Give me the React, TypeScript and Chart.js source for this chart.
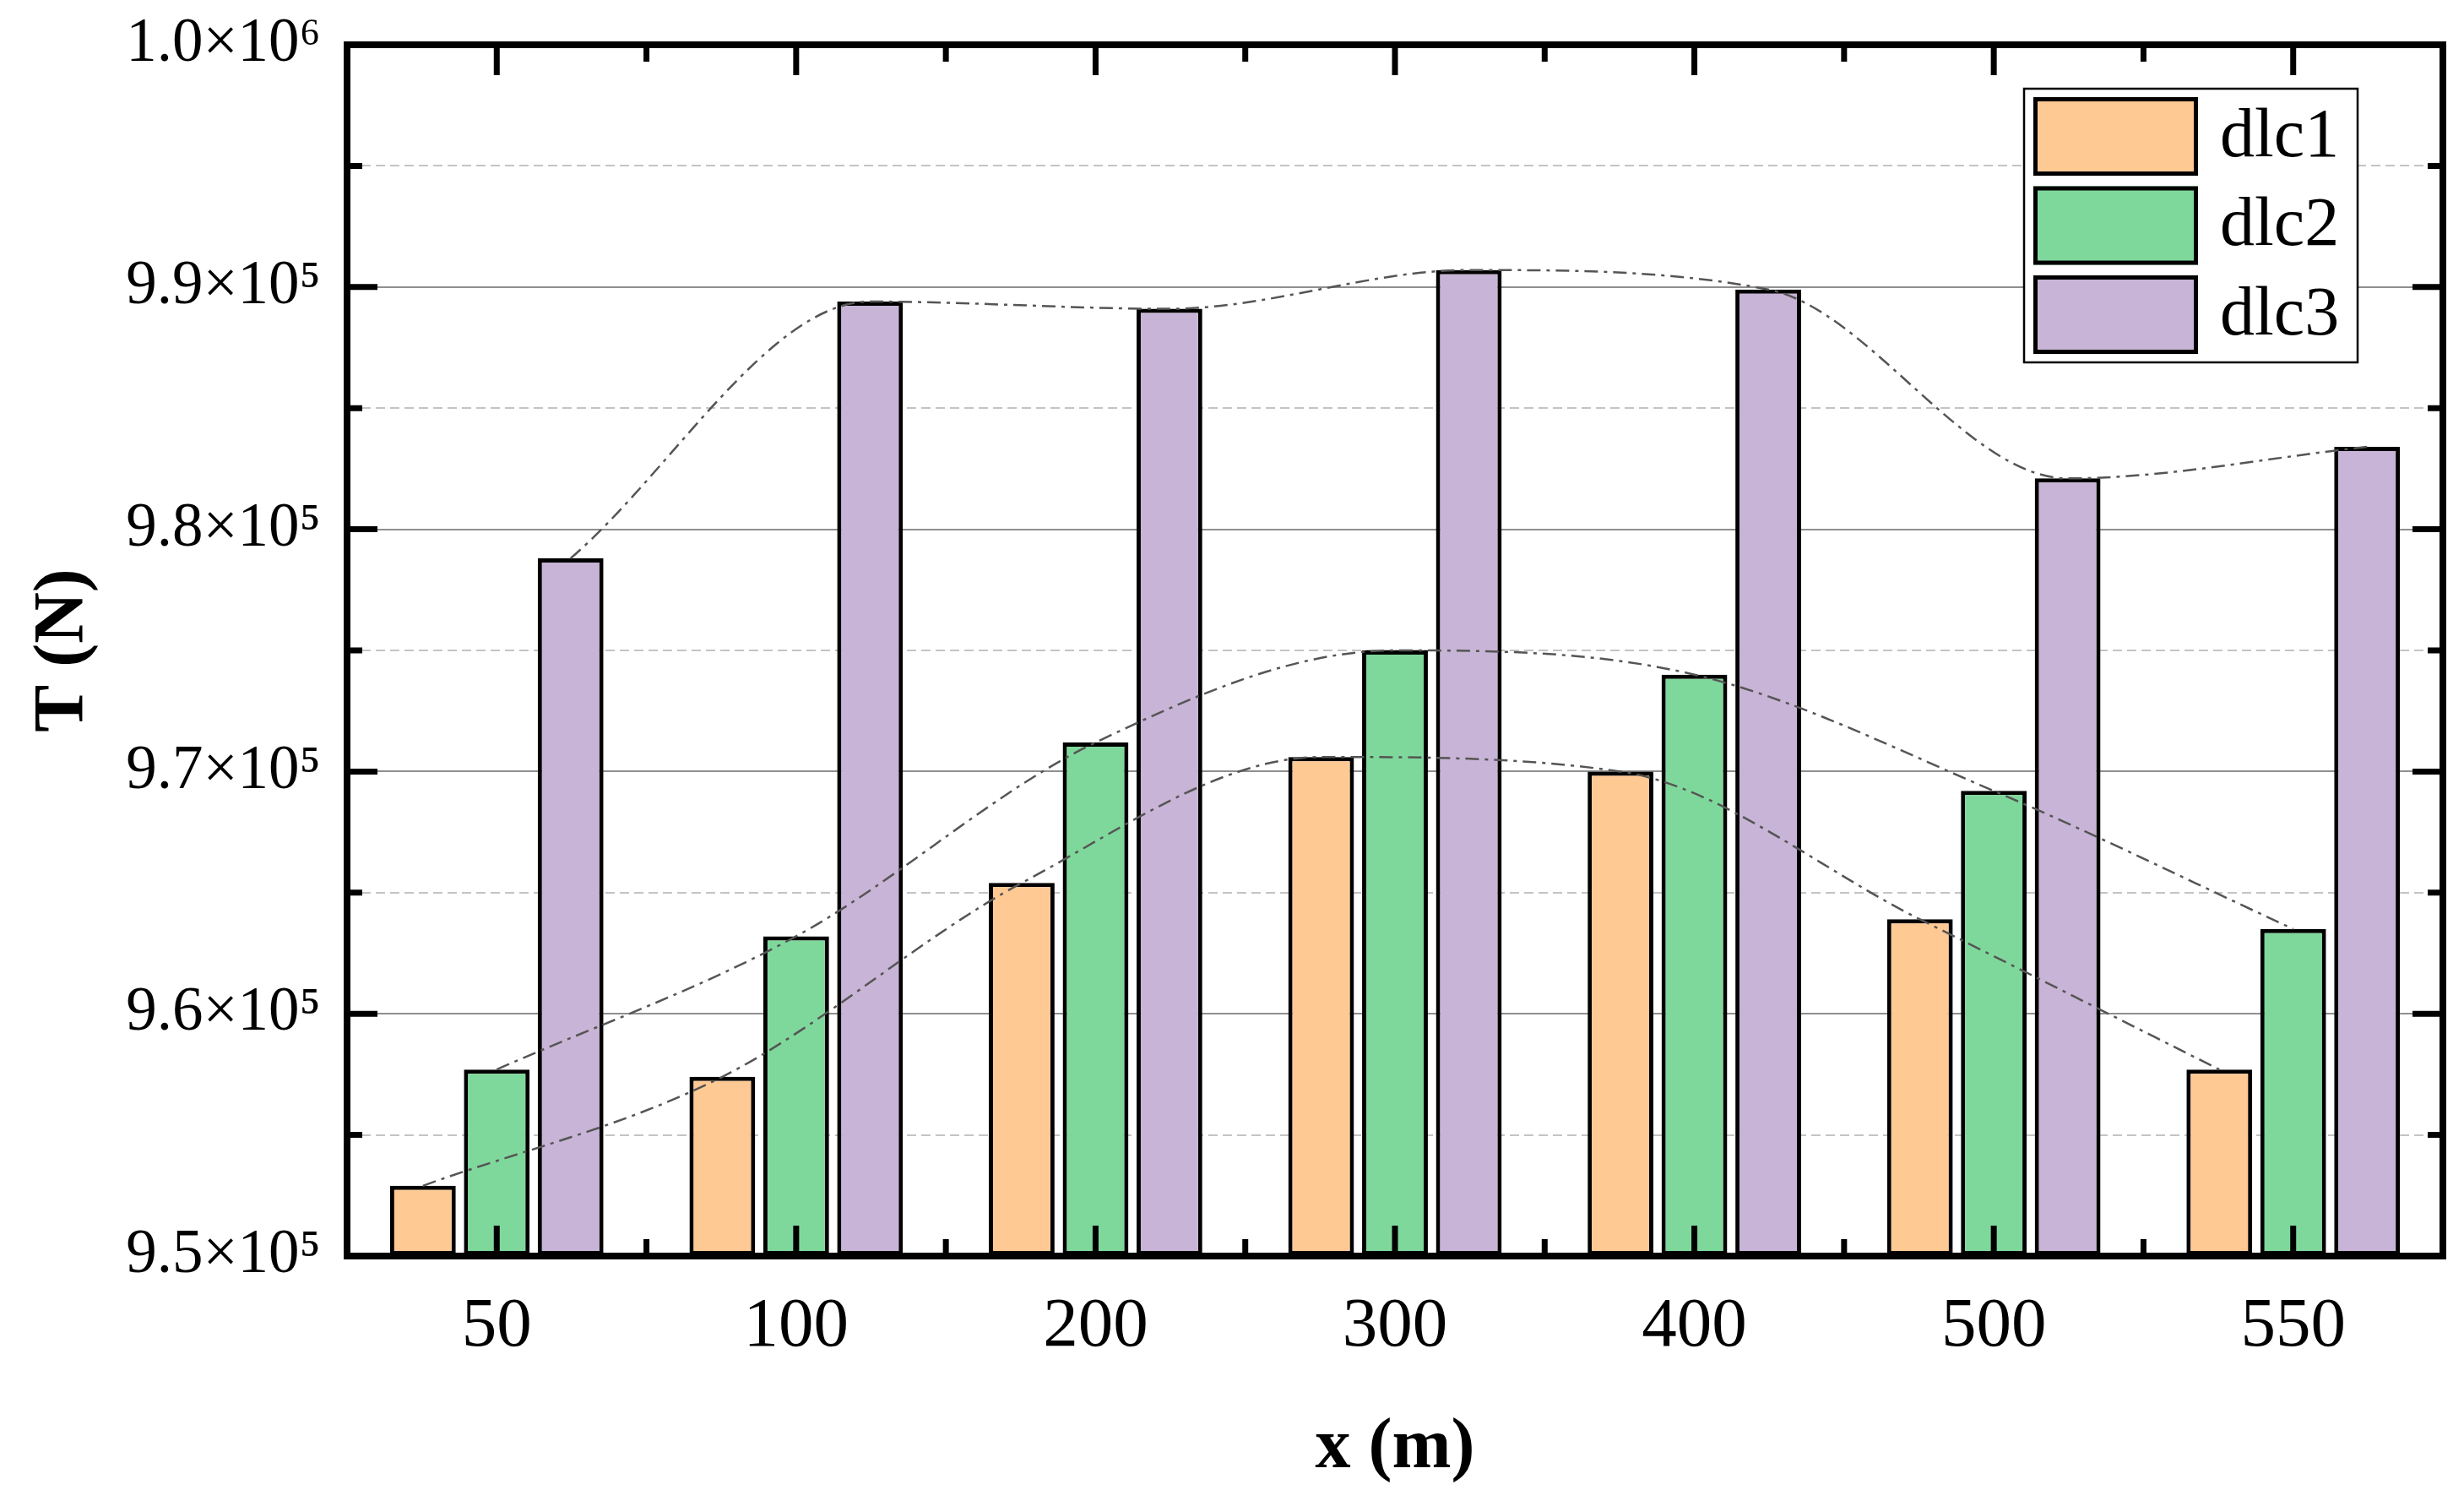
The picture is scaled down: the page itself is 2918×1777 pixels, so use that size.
import React, { useEffect, useRef } from 'react';
import { Chart, registerables } from 'chart.js';

Chart.register(...registerables);

// x categories and the three load cases (N)
const categories = ['50', '100', '200', '300', '400', '500', '550'];
const seriesNames = ['dlc1', 'dlc2', 'dlc3'];
const dlc1 = [952900, 957400, 965400, 970600, 970000, 963900, 957700];
const dlc2 = [957700, 963200, 971200, 975000, 974000, 969200, 963500];
const dlc3 = [978800, 989400, 989100, 990700, 989900, 982100, 983400];

const yMin = 950000;
const yMax = 1000000;
const yMajor = 10000;
const yMinor = 5000;

const fills = ['#FFC994', '#7FD89B', '#C8B4D6'];
const categoryPct = 0.74;
const barPct = 0.89;
const serif = '"Liberation Serif", "Times New Roman", serif';

const sup: Record<string, string> = {
    '0': '⁰', '1': '¹', '2': '²', '3': '³', '4': '⁴',
    '5': '⁵', '6': '⁶', '7': '⁷', '8': '⁸', '9': '⁹'
};

function sci(value: number) {
    const e = Math.floor(Math.log10(value) + 1e-9);
    const m = value / Math.pow(10, e);
    return m.toFixed(1) + '×10' + String(e).split('').map((c) => sup[c]).join('');
}

// frame round the plot with inward ticks, drawn over the bars
const framePlugin = {
    id: 'frame',
    afterDatasetsDraw(chart: any) {
        const { ctx, chartArea: a, scales } = chart;
        const x = scales.x;
        const y = scales.y;
        ctx.save();
        ctx.strokeStyle = '#000';
        ctx.lineCap = 'butt';
        ctx.lineWidth = 7;
        ctx.beginPath();
        for (let v = yMin + yMinor; v < yMax; v += yMinor) {
            const py = y.getPixelForValue(v);
            const len = v % yMajor === 0 ? 36 : 18;
            ctx.moveTo(a.left, py);
            ctx.lineTo(a.left + len, py);
            ctx.moveTo(a.right, py);
            ctx.lineTo(a.right - len, py);
        }
        for (let i = 0; i < categories.length; i++) {
            const px = x.getPixelForValue(i);
            ctx.moveTo(px, a.bottom);
            ctx.lineTo(px, a.bottom - 36);
            ctx.moveTo(px, a.top);
            ctx.lineTo(px, a.top + 36);
            if (i > 0) {
                const pb = x.getPixelForValue(i - 0.5);
                ctx.moveTo(pb, a.bottom);
                ctx.lineTo(pb, a.bottom - 20);
                ctx.moveTo(pb, a.top);
                ctx.lineTo(pb, a.top + 20);
            }
        }
        ctx.stroke();
        ctx.lineWidth = 8;
        ctx.strokeRect(a.left, a.top, a.right - a.left, a.bottom - a.top);
        ctx.restore();
    }
};

// legend box inside the top right corner of the plot
const legendPlugin = {
    id: 'boxLegend',
    afterDraw(chart: any) {
        const { ctx, chartArea: a } = chart;
        const items = chart.data.datasets.filter((d: any) => d.type === 'bar');
        const w = 395;
        const h = 324;
        const bx = a.right - 101 - w;
        const by = a.top + 52;
        ctx.save();
        ctx.fillStyle = '#fff';
        ctx.fillRect(bx, by, w, h);
        ctx.lineWidth = 2.5;
        ctx.strokeStyle = '#000';
        ctx.strokeRect(bx, by, w, h);
        ctx.font = '82px ' + serif;
        ctx.textBaseline = 'middle';
        ctx.textAlign = 'left';
        items.forEach((d: any, i: number) => {
            const sy = by + 10 + i * 105.5;
            ctx.fillStyle = d.backgroundColor;
            ctx.fillRect(bx + 11, sy, 195, 93);
            ctx.lineWidth = 5;
            ctx.strokeRect(bx + 13.5, sy + 2.5, 190, 88);
            ctx.fillStyle = '#000';
            ctx.fillText(d.label, bx + 232, sy + 48);
        });
        ctx.restore();
    }
};

export default function App() {
    const canvas = useRef<HTMLCanvasElement>(null);

    useEffect(() => {
        const series = [dlc1, dlc2, dlc3];

        // bars sit on whole x values, one per category
        const bars = series.map((values, k) => ({
            type: 'bar' as const,
            label: seriesNames[k],
            data: values.map((v, i) => ({ x: i, y: v })),
            backgroundColor: fills[k],
            borderColor: '#000',
            borderWidth: 5,
            borderSkipped: false,
            base: yMin,
            categoryPercentage: categoryPct,
            barPercentage: barPct,
            order: 1
        }));

        // dash-dot curve through the middle of each bar top
        const lines = series.map((values, k) => ({
            type: 'line' as const,
            label: seriesNames[k] + ' trend',
            data: values.map((v, i) => ({ x: i + (k - 1) * categoryPct / 3, y: v })),
            borderColor: '#555',
            borderWidth: 2.5,
            borderDash: [16, 7, 4, 7],
            pointRadius: 0,
            cubicInterpolationMode: 'monotone',
            fill: false,
            order: 0
        }));

        const chart = new Chart(canvas.current as HTMLCanvasElement, {
            type: 'bar',
            data: {
                datasets: [...bars, ...lines] as any
            },
            options: {
                animation: false,
                responsive: false,
                devicePixelRatio: 1,
                events: [],
                layout: { padding: { top: 45, right: 17, left: 0, bottom: 0 } },
                plugins: {
                    legend: { display: false },
                    tooltip: { enabled: false }
                },
                scales: {
                    x: {
                        type: 'linear',
                        position: 'bottom',
                        offset: false,
                        min: -0.5,
                        max: categories.length - 0.5,
                        grid: { display: false, offset: false },
                        border: { display: false },
                        afterBuildTicks: (s: any) => {
                            s.ticks = categories.map((_, i) => ({ value: i }));
                        },
                        ticks: {
                            color: '#000',
                            font: { family: serif, size: 83 },
                            padding: 26,
                            maxRotation: 0,
                            autoSkip: false,
                            callback: (v: any) => categories[Math.round(Number(v))]
                        },
                        title: {
                            display: true,
                            text: 'x (m)',
                            color: '#000',
                            font: { family: serif, size: 84, weight: 'bold' },
                            padding: { top: 0, bottom: 3 }
                        },
                        afterFit: (s: any) => { s.height = 282; }
                    },
                    y: {
                        type: 'linear',
                        position: 'left',
                        min: yMin,
                        max: yMax,
                        grid: {
                            color: '#8f8f8f',
                            lineWidth: 2,
                            drawTicks: true,
                            tickLength: 31,
                            tickColor: 'rgba(0,0,0,0)'
                        },
                        border: { display: false },
                        ticks: {
                            stepSize: yMajor,
                            color: '#000',
                            font: { family: serif, size: 73 },
                            padding: 0,
                            callback: (v: any) => sci(Number(v))
                        },
                        title: {
                            display: true,
                            text: 'T (N)',
                            color: '#000',
                            font: { family: serif, size: 84, weight: 'bold' },
                            padding: { top: 18, bottom: 0 }
                        },
                        afterFit: (s: any) => { s.width = 403; }
                    },
                    yMinorGrid: {
                        type: 'linear',
                        position: 'left',
                        min: yMin,
                        max: yMax,
                        ticks: { display: false, stepSize: yMinor },
                        grid: {
                            lineWidth: 2,
                            drawTicks: false,
                            color: (c: any) => (c.tick && c.tick.value % yMajor !== 0 ? '#c4c4c4' : 'rgba(0,0,0,0)')
                        },
                        border: { display: false, dash: [11, 6] },
                        afterFit: (s: any) => { s.width = 0; }
                    }
                }
            } as any,
            plugins: [framePlugin, legendPlugin]
        });

        return () => {
            chart.destroy();
        };
    }, []);

    return <canvas ref={canvas} width={2902} height={1761} style={{ display: 'block' }} />;
}
